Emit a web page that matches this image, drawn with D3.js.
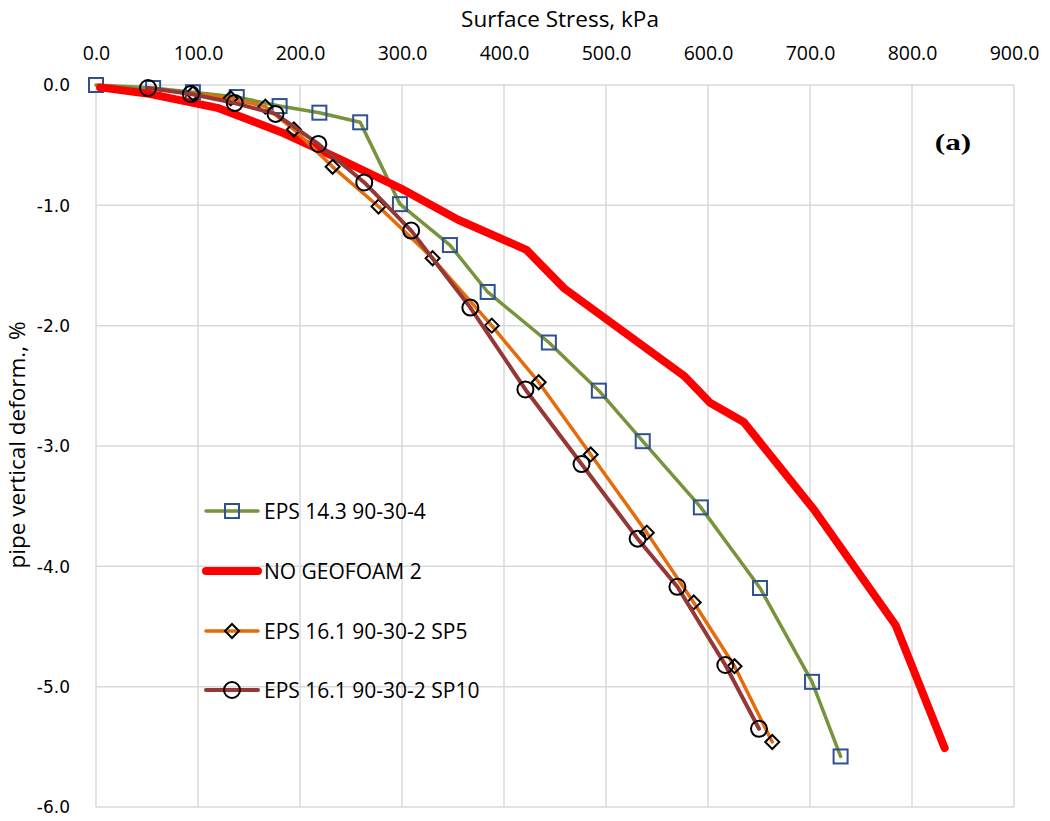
<!DOCTYPE html>
<html>
<head>
<meta charset="utf-8">
<script src="https://cdn.jsdelivr.net/npm/d3@7"></script>
<style>
  body { margin: 0; background: #fff; }
  svg { display: block; }
</style>
</head>
<body>
<svg id="chart"></svg>
<script>
// series values: [stress kPa, deformation %]
const eps143 = [[0,0],[56,-0.025],[95,-0.06],[138,-0.10],[180,-0.175],[219,-0.23],[259,-0.31],
  [298,-0.99],[347,-1.33],[384,-1.72],[444,-2.14],[493,-2.54],[536,-2.96],[593,-3.51],
  [651,-4.18],[702,-4.96],[730,-5.58]];
const noGeofoam = [[4,-0.02],[50,-0.07],[119,-0.19],[181,-0.39],[240,-0.62],[299,-0.86],
  [355,-1.12],[422,-1.37],[459,-1.69],[577,-2.42],[602,-2.64],[635,-2.80],[704,-3.53],
  [784,-4.49],[832,-5.51]];
const eps161sp5 = [[95,-0.07],[132,-0.11],[166,-0.18],[194,-0.37],[232,-0.68],
  [277,-1.01],[330,-1.44],[388,-2.0],[434,-2.47],[485,-3.07],[540,-3.72],[586,-4.30],
  [626,-4.83],[663,-5.46]];
const eps161sp10 = [[51,-0.025],[93,-0.075],[136,-0.15],[176,-0.24],[218,-0.49],
  [263,-0.81],[309,-1.21],[367,-1.85],[421,-2.53],[476,-3.15],[531,-3.77],[570,-4.17],
  [617,-4.82],[650,-5.35]];

const seriesNames = ["EPS 14.3 90-30-4", "NO GEOFOAM 2", "EPS 16.1 90-30-2 SP5", "EPS 16.1 90-30-2 SP10"];
const xTicks = [0,100,200,300,400,500,600,700,800,900];
const yTicks = [0,-1,-2,-3,-4,-5,-6];

const width = 1050, height = 821;
const svg = d3.select("#chart").attr("width", width).attr("height", height);

const x = d3.scaleLinear().domain([0, 900]).range([96, 1014]);
const y = d3.scaleLinear().domain([0, -6]).range([85, 807]);

// grid
const grid = svg.append("g");
grid.selectAll("line.v").data(xTicks).enter().append("line")
  .attr("x1", d => x(d)).attr("x2", d => x(d))
  .attr("y1", y(0)).attr("y2", y(-6))
  .attr("stroke", "#d9d9d9").attr("stroke-width", 1.5);
grid.selectAll("line.h").data(yTicks).enter().append("line")
  .attr("x1", x(0)).attr("x2", x(900))
  .attr("y1", d => y(d)).attr("y2", d => y(d))
  .attr("stroke", "#d9d9d9").attr("stroke-width", 1.5);

const fmt = d => d.toFixed(1);

// axes (labels only)
const axTop = svg.append("g").attr("transform", "translate(0," + (y(0) - 22) + ")")
  .call(d3.axisTop(x).tickValues(xTicks).tickSize(0).tickFormat(fmt));
axTop.select(".domain").remove();
axTop.selectAll("text").attr("font-family", "'Open Sans', sans-serif")
  .attr("font-size", 19.5).attr("fill", "#000");

const axLeft = svg.append("g").attr("transform", "translate(" + (x(0) - 23) + ",0)")
  .call(d3.axisLeft(y).tickValues(yTicks).tickSize(0).tickFormat(fmt));
axLeft.select(".domain").remove();
axLeft.selectAll("text").attr("font-family", "'DejaVu Sans', sans-serif")
  .attr("font-size", 17).attr("fill", "#000").attr("dy", "0.35em");

svg.append("text").attr("x", 560).attr("y", 27).attr("text-anchor", "middle")
  .attr("font-family", "'Open Sans', sans-serif").attr("font-size", 22.5)
  .text("Surface Stress, kPa");

svg.append("text").attr("transform", "translate(25,445) rotate(-90)").attr("text-anchor", "middle")
  .attr("font-family", "'Open Sans', sans-serif").attr("font-size", 22.5)
  .text("pipe vertical deform., %");

svg.append("text").attr("transform", "translate(953,150) scale(1.3,1)").attr("text-anchor", "middle")
  .attr("font-family", "'Liberation Serif', serif").attr("font-weight", "bold").attr("font-size", 24)
  .text("(a)");

// series
const styles = [
  {data: eps143, color: "#77933c", width: 3.5, marker: "square"},
  {data: noGeofoam, color: "#ff0000", width: 8, marker: null},
  {data: eps161sp5, color: "#e46c0a", width: 3.5, marker: "diamond"},
  {data: eps161sp10, color: "#953735", width: 4, marker: "circle"}
];

const line = d3.line().x(d => x(d[0])).y(d => y(d[1]));

function drawMarker(g, kind, cx, cy) {
  if (kind === "square") {
    g.append("rect").attr("x", cx - 7).attr("y", cy - 7).attr("width", 14).attr("height", 14)
      .attr("fill", "none").attr("stroke", "#2f528f").attr("stroke-width", 2);
  } else if (kind === "diamond") {
    const r = 7;
    g.append("path")
      .attr("d", "M" + cx + "," + (cy - r) + "L" + (cx + r) + "," + cy + "L" + cx + "," + (cy + r) + "L" + (cx - r) + "," + cy + "Z")
      .attr("fill", "none").attr("stroke", "#000").attr("stroke-width", 2);
  } else if (kind === "circle") {
    g.append("circle").attr("cx", cx).attr("cy", cy).attr("r", 8)
      .attr("fill", "none").attr("stroke", "#000").attr("stroke-width", 2);
  }
}

styles.forEach(s => {
  const g = svg.append("g");
  g.append("path").attr("d", line(s.data)).attr("fill", "none")
    .attr("stroke", s.color).attr("stroke-width", s.width)
    .attr("stroke-linejoin", "round").attr("stroke-linecap", "round");
  if (s.marker) s.data.forEach(d => drawMarker(g, s.marker, x(d[0]), y(d[1])));
});

// legend
const legend = svg.append("g");
const legY = [511, 571, 631, 690];
styles.forEach((s, i) => {
  const g = legend.append("g");
  g.append("line").attr("x1", 206).attr("x2", 258).attr("y1", legY[i]).attr("y2", legY[i])
    .attr("stroke", s.color).attr("stroke-width", s.width).attr("stroke-linecap", "round");
  if (s.marker) drawMarker(g, s.marker, 232, legY[i]);
  g.append("text").attr("x", 264).attr("y", legY[i]).attr("dy", "0.36em")
    .attr("font-family", "'Open Sans', sans-serif").attr("font-size", 21)
    .text(seriesNames[i]);
});
</script>
</body>
</html>
